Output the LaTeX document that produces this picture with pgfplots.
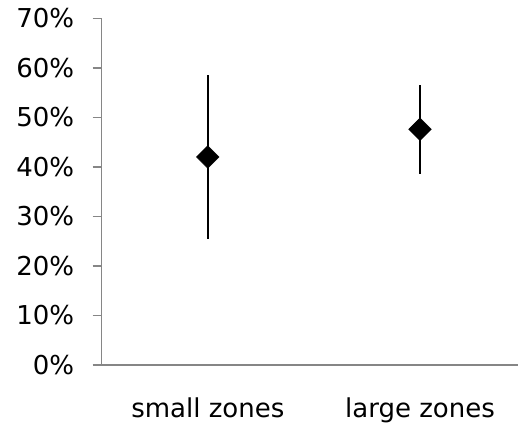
\documentclass[border=0pt]{standalone}
\usepackage{pgfplots}
\pgfplotsset{compat=1.18}
\usepackage{fontspec}
\setmainfont{DejaVu Sans}
\definecolor{axisgray}{HTML}{868686}
\begin{document}
\begin{tikzpicture}
\begin{axis}[
  at={(0,0)}, anchor=south west,
  scale only axis,
  width=416.3bp, height=346.7bp,
  xmin=0.5, xmax=2.4616,
  ymin=0, ymax=70,
  axis lines=left,
  axis line style={-, draw=axisgray, line width=1.5bp},
  xtick={1,2},
  xticklabels={small zones, large zones},
  xtick style={draw=none},
  ytick={0,10,20,30,40,50,60,70},
  yticklabels={0\%,10\%,20\%,30\%,40\%,50\%,60\%,70\%},
  tick align=outside,
  major tick length=9bp,
  ytick style={draw=axisgray, line width=1.5bp},
  tick label style={font=\fontsize{26bp}{30bp}\selectfont, text=black},
  yticklabel style={xshift=-15bp},
  xticklabel style={yshift=-20bp},
  clip=false,
]
\addplot[only marks, mark=square*, mark size=8bp, mark options={rotate=45, fill=black, draw=black},
  error bars/.cd, y dir=both, y explicit, error mark=none,
  error bar style={line width=2bp, black}]
  coordinates {
    (1,42.0) +- (0,16.5)
    (2,47.6) +- (0,9.0)
  };
\end{axis}
\pgfresetboundingbox
\path[use as bounding box] (-101.7bp,-61bp) rectangle (416.3bp,365bp);
\end{tikzpicture}
\end{document}
